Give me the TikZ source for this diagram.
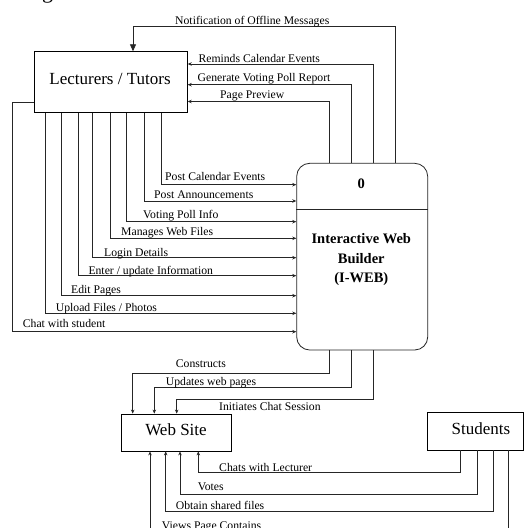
\documentclass[tikz,border=0pt]{standalone}
\usepackage{fontspec}
\setmainfont{Liberation Serif}
\usetikzlibrary{arrows.meta}
\begin{document}
\begin{tikzpicture}[x=1pt,y=-1pt,
  flow/.style={draw=black!85, line width=0.8pt},
  arr/.style={flow, -{Stealth[length=4pt,width=3.5pt]}},
  bigarr/.style={flow, -{Triangle[length=7pt,width=6pt]}},
  lbl/.style={anchor=base west, inner sep=0pt, font=\fontsize{11.7}{13}\selectfont},
  entity/.style={draw=black, line width=0.8pt, inner sep=0pt},
  entitytext/.style={inner sep=0pt, font=\fontsize{17}{20}\selectfont},
  proctext/.style={inner sep=0pt, align=center, font=\bfseries\fontsize{14.5}{19.5}\selectfont}]
\useasboundingbox (0,0) rectangle (524,528);
\fill[white] (0,0) rectangle (524,528);

% caption fragment
\node[anchor=base west, inner sep=0pt, font=\fontsize{22}{24}\selectfont] (frag) at (42,-2) {g};

% entities
\node[entity, minimum width=152.6pt, minimum height=61pt] (lect) at (111,82.2) {};
\node[entitytext] (lecttext) at (110,79) {Lecturers / Tutors};
\node[entity, minimum width=109.3pt, minimum height=37pt] (web) at (176.35,432.5) {};
\node[entitytext] (webtext) at (176,430) {Web Site};
\node[entity, minimum width=96pt, minimum height=37.3pt] (stud) at (475.7,431.35) {};
\node[entitytext] (studtext) at (481,429) {Students};

% process
\node[draw=black!85, line width=0.8pt, rounded corners=13pt, minimum width=131pt, minimum height=186.7pt, inner sep=0pt] (iweb) at (362.2,256.65) {};
\draw[flow] (iweb.west |- 0,209.3) -- (iweb.east |- 0,209.3);
\node[proctext] (zero) at (361.3,183.3) {0};
\node[proctext] (iwebtext) at (361.3,260) {Interactive Web\\Builder\\(I-WEB)};

% coordinates on box edges
\coordinate (n1) at (395.3,163.3);
\coordinate (n2) at (373,163.3);
\coordinate (n3) at (351.3,163.3);
\coordinate (n4) at (329.3,163.3);

% outputs to lecturers
\draw[bigarr] (n1) |- (133,26) -- (lect.north -| 133,0);
\node[lbl] (l0) at (175,24.5) {Notification of Offline Messages};
\draw[arr] (n2) |- (lect.east |- 0,64);
\node[lbl] (l1) at (198.3,62.3) {Reminds Calendar Events};
\draw[arr] (n3) |- (lect.east |- 0,84.7);
\node[lbl] (l2) at (197.5,81.8) {Generate Voting Poll Report};
\draw[arr] (n4) |- (lect.east |- 0,101.5);
\node[lbl] (l3) at (220,98.6) {Page Preview};

% inputs from lecturers
\foreach \x/\y/\t/\lx/\ly [count=\i] in {
  161.3/184.7/{Post Calendar Events}/165/180.5,
  144/201/{Post Announcements}/154/198.6,
  126.7/221.7/{Voting Poll Info}/143/218.4,
  110/238.3/{Manages Web Files}/121/235.8,
  92.7/257.7/{Login Details}/104/256,
  78.3/275.7/{Enter / update Information}/88.3/274,
  61/295.7/{Edit Pages}/71/293.3,
  45.7/313.3/{Upload Files / Photos}/55.7/311.3}{
  \draw[arr] (lect.south -| \x,0) |- (iweb.west |- 0,\y);
  \node[lbl] (in\i) at (\lx,\ly) {\t};
}
\coordinate (chatstart) at (lect.west |- 0,102);
\draw[arr] (chatstart) -- (12.7,102) |- (iweb.west |- 0,331.7);
\node[lbl] (chat) at (22.7,327.7) {Chat with student};

% iweb to web site
\draw[arr] (iweb.south -| 329.3,0) |- (132.7,373.3) -- (web.north -| 132.7,0);
\node[lbl] (c1) at (175.7,367.3) {Constructs};
\draw[arr] (iweb.south -| 351.3,0) |- (154.3,387.3) -- (web.north -| 154.3,0);
\node[lbl] (c2) at (165.7,385.2) {Updates web pages};
\draw[arr] (iweb.south -| 373,0) |- (176.7,399) -- (web.north -| 176.7,0);
\node[lbl] (c3) at (219,410) {Initiates Chat Session};

% students to web site
\draw[arr] (stud.south -| 460.3,0) |- (198.3,472.7) -- (web.south -| 198.3,0);
\node[lbl] (s1) at (219,471) {Chats with Lecturer};
\draw[arr] (stud.south -| 477.7,0) |- (180,494) -- (web.south -| 180,0);
\node[lbl] (s2) at (197.7,490.5) {Votes};
\draw[arr] (stud.south -| 493,0) |- (165.7,511.7) -- (web.south -| 165.7,0);
\node[lbl] (s3) at (175.7,509) {Obtain shared files};
\draw[arr] (stud.south -| 508,0) |- (150,533) -- (web.south -| 150,0);
\node[lbl] (s4) at (161.7,529) {Views Page Contains};
\end{tikzpicture}
\end{document}
